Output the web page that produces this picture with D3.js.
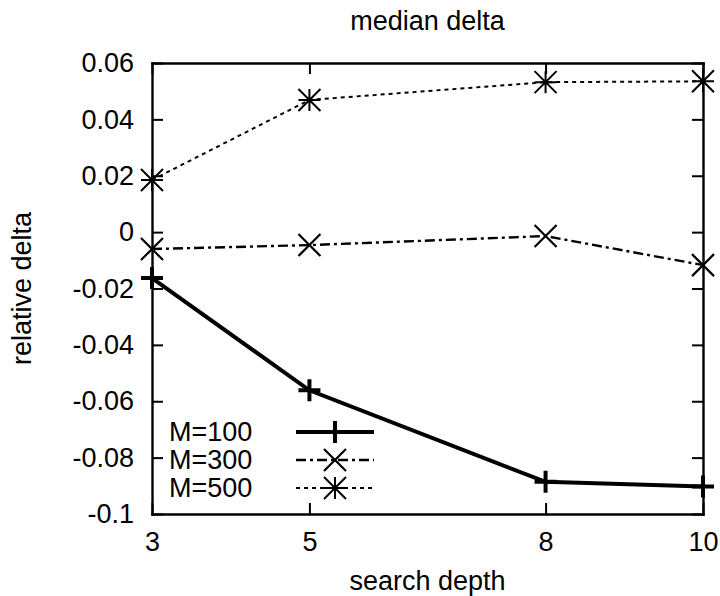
<!DOCTYPE html>
<html>
<head>
<meta charset="utf-8">
<script src="https://cdn.jsdelivr.net/npm/d3@7"></script>
<style>
  html, body { margin: 0; padding: 0; background: #fff; }
  svg text { font-family: "Liberation Sans", Arial, Helvetica, sans-serif; fill: #000; }
</style>
</head>
<body>
<div id="viz"></div>
<script>
const WIDTH = 720;
const HEIGHT = 596;
const MARGIN = { top: 63, right: 17, bottom: 82, left: 152 };
const FONT = 27;

// search depth values
const depths = [3, 5, 8, 10];
const xTicks = [3, 5, 8, 10];
const yTicks = [0.06, 0.04, 0.02, 0, -0.02, -0.04, -0.06, -0.08, -0.1];
const yTickLabels = ['0.06', '0.04', '0.02', '0', '-0.02', '-0.04', '-0.06', '-0.08', '-0.1'];

const seriesNames = ['M=100', 'M=300', 'M=500'];
const m100 = [-0.0163, -0.0561, -0.0886, -0.0902];
const m300 = [-0.0060, -0.0046, -0.0014, -0.0117];
const m500 = [0.0185, 0.0469, 0.0532, 0.0535];

const STYLES = [
  { width: 4, dash: null, marker: 'plus', mw: 4 },
  { width: 2.4, dash: '10,4,3,4', marker: 'x', mw: 2.2 },
  { width: 2, dash: '4,4', marker: 'star', mw: 2 },
];

function markerPath(type, cx, cy) {
  const s = 11;
  const p = d3.path();
  if (type === 'plus' || type === 'star') {
    p.moveTo(cx - s, cy); p.lineTo(cx + s, cy);
    p.moveTo(cx, cy - s); p.lineTo(cx, cy + s);
  }
  if (type === 'x' || type === 'star') {
    p.moveTo(cx - s, cy - s); p.lineTo(cx + s, cy + s);
    p.moveTo(cx - s, cy + s); p.lineTo(cx + s, cy - s);
  }
  return p.toString();
}

function main() {
  const svg = d3.select('#viz').append('svg')
    .attr('width', WIDTH)
    .attr('height', HEIGHT);

  const x = d3.scaleLinear().domain([3, 10]).range([MARGIN.left, WIDTH - MARGIN.right]);
  const y = d3.scaleLinear().domain([-0.1, 0.06]).range([HEIGHT - MARGIN.bottom, MARGIN.top]);

  const tickLen = 11;
  const [x0, x1] = x.range();
  const [y0, y1] = y.range();

  // axes with inward ticks, mirrored on top and right; the domains make the frame
  const axBottom = svg.append('g').attr('transform', `translate(0,${y(-0.1)})`)
    .call(d3.axisBottom(x).tickValues(xTicks).tickSizeInner(-tickLen).tickSizeOuter(0).tickFormat(d3.format('d')));
  const axTop = svg.append('g').attr('transform', `translate(0,${y(0.06)})`)
    .call(d3.axisTop(x).tickValues(xTicks).tickSizeInner(-tickLen).tickSizeOuter(0).tickFormat(''));
  const axLeft = svg.append('g').attr('transform', `translate(${x(3)},0)`)
    .call(d3.axisLeft(y).tickValues(yTicks).tickSizeInner(-tickLen).tickSizeOuter(0).tickPadding(18)
      .tickFormat((d, i) => yTickLabels[i]));
  const axRight = svg.append('g').attr('transform', `translate(${x(10)},0)`)
    .call(d3.axisRight(y).tickValues(yTicks).tickSizeInner(-tickLen).tickSizeOuter(0).tickFormat(''));

  [axBottom, axTop, axLeft, axRight].forEach((g) => {
    g.select('.domain').attr('stroke', '#000').attr('stroke-width', 2.4).attr('stroke-linecap', 'square');
    g.selectAll('.tick line').attr('stroke', '#000').attr('stroke-width', 2);
    g.selectAll('.tick text').attr('font-size', FONT).attr('font-family', null);
  });
  axBottom.selectAll('.tick text').attr('dy', null).attr('y', 37);

  const series = [m100, m300, m500].map((vals, i) => ({
    name: seriesNames[i],
    style: STYLES[i],
    points: depths.map((d, j) => ({ x: d, y: vals[j] })),
  }));

  const line = d3.line().x((d) => x(d.x)).y((d) => y(d.y));

  series.forEach((s) => {
    svg.append('path')
      .attr('d', line(s.points))
      .attr('fill', 'none')
      .attr('stroke', '#000')
      .attr('stroke-width', s.style.width)
      .attr('stroke-dasharray', s.style.dash);
    svg.append('g').selectAll('path')
      .data(s.points)
      .join('path')
      .attr('d', (d) => markerPath(s.style.marker, x(d.x), y(d.y)))
      .attr('fill', 'none')
      .attr('stroke', '#000')
      .attr('stroke-width', s.style.mw);
  });

  // legend
  const legend = svg.append('g');
  series.forEach((s, i) => {
    const ly = 432 + i * 28;
    legend.append('text')
      .attr('x', 169).attr('y', ly)
      .attr('dy', '0.35em')
      .attr('font-size', FONT)
      .text(s.name);
    legend.append('line')
      .attr('x1', 296).attr('x2', 374).attr('y1', ly).attr('y2', ly)
      .attr('stroke', '#000')
      .attr('stroke-width', s.style.width)
      .attr('stroke-dasharray', s.style.dash);
    legend.append('path')
      .attr('d', markerPath(s.style.marker, 335, ly))
      .attr('fill', 'none')
      .attr('stroke', '#000')
      .attr('stroke-width', s.style.mw);
  });

  // titles
  const midX = (x0 + x1) / 2;
  svg.append('text')
    .attr('x', midX).attr('y', 30)
    .attr('text-anchor', 'middle').attr('font-size', FONT)
    .text('median delta');
  svg.append('text')
    .attr('x', midX).attr('y', 590)
    .attr('text-anchor', 'middle').attr('font-size', FONT)
    .text('search depth');
  svg.append('text')
    .attr('transform', `translate(31,${(y0 + y1) / 2}) rotate(-90)`)
    .attr('text-anchor', 'middle').attr('font-size', FONT)
    .text('relative delta');
}

main();
</script>
</body>
</html>
